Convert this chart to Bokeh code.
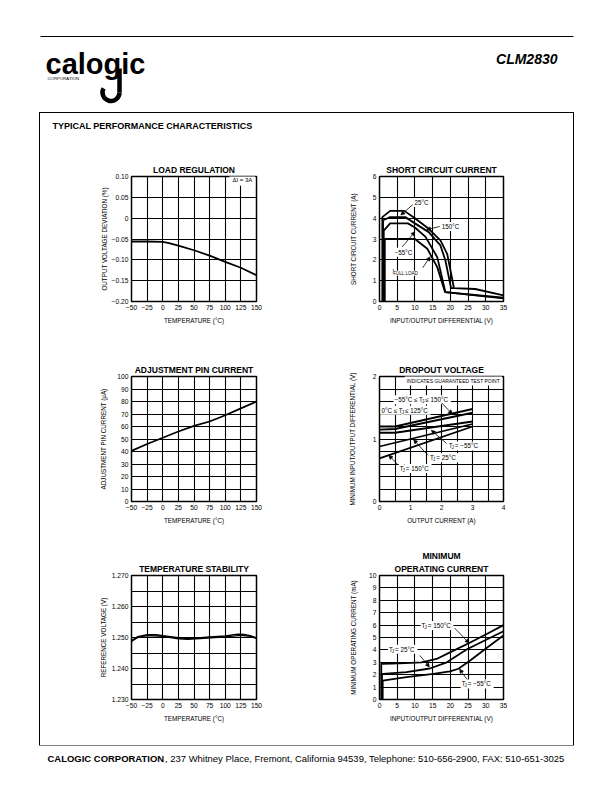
import math
from bokeh.plotting import figure
from bokeh.layouts import column, row
from bokeh.models import Range1d, FixedTicker, Label, Arrow, NormalHead, Spacer, Title
from bokeh.embed import file_html
from bokeh.resources import INLINE

FONT = "Liberation Sans"

# ---------------- data ----------------
temp_ticks = [-50, -25, 0, 25, 50, 75, 100, 125, 150]
temp_labels = ["\u221250", "\u221225", "0", "25", "50", "75", "100", "125", "150"]

# Load regulation
load_temp = [-50, -25, 0, 10, 25, 50, 75, 100, 125, 150]
load_dev = [-0.056, -0.056, -0.057, -0.060, -0.066, -0.077, -0.090, -0.105, -0.119, -0.137]
load_yticks = [-0.20, -0.15, -0.10, -0.05, 0.0, 0.05, 0.10]
load_ylabels = ["\u22120.20", "\u22120.15", "\u22120.10", "\u22120.05", "0", "0.05", "0.10"]

# Short circuit current
diff_ticks = [0, 5, 10, 15, 20, 25, 30, 35]
diff_labels = ["0", "5", "10", "15", "20", "25", "30", "35"]
sc_yticks = [0, 1, 2, 3, 4, 5, 6]
sc_ylabels = ["0", "1", "2", "3", "4", "5", "6"]
sc_v_25 = [0.8, 0.8, 3.0, 7.0, 10.0, 13.9, 17.2, 19.1, 20.5, 21.0, 27.0, 35.0]
sc_i_25 = [0.0, 4.05, 4.35, 4.35, 4.00, 3.49, 2.93, 2.29, 1.09, 0.64, 0.60, 0.29]
sc_v_150 = [1.0, 1.0, 3.0, 7.3, 10.0, 13.9, 17.2, 18.6, 20.2, 21.0]
sc_i_150 = [0.0, 3.90, 4.05, 4.05, 3.75, 3.33, 2.69, 1.97, 0.64, 0.64]
sc_v_m55 = [1.2, 1.2, 3.0, 8.0, 10.0, 13.0, 16.3, 18.6, 35.0]
sc_i_m55 = [0.0, 3.40, 3.75, 3.75, 3.55, 3.10, 2.13, 0.45, 0.18]
sc_v_fl = [1.5, 1.5, 10.0, 13.5, 16.3, 18.5, 35.0]
sc_i_fl = [0.0, 3.00, 3.00, 2.53, 1.65, 0.45, 0.15]

# Adjustment pin current
adj_temp = [-50, -25, 0, 25, 50, 75, 100, 125, 150]
adj_ua = [40.5, 46.0, 51.0, 56.0, 60.5, 64.0, 69.0, 74.5, 80.0]
adj_yticks = [0, 10, 20, 30, 40, 50, 60, 70, 80, 90, 100]
adj_ylabels = ["0", "10", "20", "30", "40", "50", "60", "70", "80", "90", "100"]

# Dropout voltage
do_xticks = [0, 0.5, 1, 1.5, 2, 2.5, 3, 3.5, 4]
do_xlabels = ["0", "", "1", "", "2", "", "3", "", "4"]
do_yticks = [0, 0.2, 0.4, 0.6, 0.8, 1.0, 1.2, 1.4, 1.6, 1.8, 2.0]
do_ylabels = ["0", "", "", "", "", "1", "", "", "", "", "2"]
do_i_g1 = [0, 0.5, 3.0]
do_v_g1 = [1.20, 1.20, 1.48]
do_i_g2 = [0, 0.5, 3.0]
do_v_g2 = [1.15, 1.16, 1.42]
do_i_m55 = [0, 0.5, 3.0]
do_v_m55 = [1.10, 1.10, 1.28]
do_i_25 = [0, 3.0]
do_v_25 = [0.88, 1.24]
do_i_150 = [0, 3.0]
do_v_150 = [0.69, 1.20]

# Temperature stability
ts_yticks = [1.230, 1.235, 1.240, 1.245, 1.250, 1.255, 1.260, 1.265, 1.270]
ts_ylabels = ["1.230", "", "1.240", "", "1.250", "", "1.260", "", "1.270"]
ts_t_a = [-50, -40, -25, -10, 0, 25, 40, 60, 75, 100, 120, 130, 140, 150]
ts_v_a = [1.2490, 1.2503, 1.2509, 1.2509, 1.2506, 1.2499, 1.2497, 1.2499, 1.2502, 1.2505, 1.2511, 1.2510, 1.2506, 1.2499]
ts_t_b = [-50, -40, -25, 0, 25, 40, 60, 100, 125, 140, 150]
ts_v_b = [1.2487, 1.2500, 1.2506, 1.2504, 1.2496, 1.2494, 1.2497, 1.2502, 1.2507, 1.2504, 1.2497]

# Minimum operating current
mo_yticks = [0, 1, 2, 3, 4, 5, 6, 7, 8, 9, 10]
mo_ylabels = ["0", "1", "2", "3", "4", "5", "6", "7", "8", "9", "10"]
mo_v_150 = [0.5, 0.5, 1.0, 5.7, 11.9, 16.1, 19.9, 25.6, 30.4, 35.0]
mo_i_150 = [0.0, 2.88, 2.88, 2.92, 3.00, 3.27, 3.80, 4.60, 5.30, 6.00]
mo_v_25 = [0.7, 0.7, 1.0, 7.6, 14.2, 19.0, 24.7, 30.4, 35.0]
mo_i_25 = [0.0, 2.05, 2.07, 2.20, 2.50, 3.00, 4.05, 4.86, 5.50]
mo_v_m55 = [0.9, 0.9, 7.6, 15.2, 19.9, 22.3, 25.6, 30.4, 35.0]
mo_i_m55 = [0.0, 1.53, 1.80, 2.07, 2.26, 2.48, 3.15, 4.20, 5.16]

# ---------------- text width helper (Arial metrics, per 1000 em) ----------------
REG = {' ': 278, ',': 278, '.': 278, ':': 278, '-': 333, '(': 333, ')': 333, '/': 278,
       '\u2212': 584, '\u00b0': 400, '\u2264': 549, '=': 584, '%': 889, '\u00b5': 556}
for ch in "0123456789":
    REG[ch] = 556
REG.update(dict(zip("ABCDEFGHIJKLMNOPQRSTUVWXYZ",
                    [667, 667, 722, 722, 667, 611, 778, 722, 278, 500, 667, 556, 833, 722, 778, 667, 778, 722, 667, 611, 722, 667, 944, 667, 667, 611])))
REG.update(dict(zip("abcdefghijklmnopqrstuvwxyz",
                    [556, 556, 500, 556, 556, 278, 556, 556, 222, 222, 500, 222, 833, 556, 556, 556, 556, 333, 500, 278, 556, 500, 722, 500, 500, 500])))
BOLD = dict(REG)
BOLD.update(dict(zip("ABCDEFGHIJKLMNOPQRSTUVWXYZ",
                     [722, 722, 722, 722, 667, 611, 778, 722, 278, 556, 722, 611, 833, 722, 778, 667, 778, 722, 667, 611, 722, 667, 944, 667, 667, 611])))


def em(s, bold=False):
    t = BOLD if bold else REG
    return sum(t.get(c, 600) for c in s) / 1000.0


def label(p, x, y, text, size=6.3, align="left", bg=False, style="normal", xo=0, yo=0,
          baseline="middle", pad=1):
    lab = Label(x=x, y=y, text=text, x_offset=xo, y_offset=yo, text_font=FONT,
                text_font_size=f"{size}px", text_align=align, text_baseline=baseline,
                text_font_style=style, text_color="black",
                background_fill_color="white" if bg else None, padding=pad if bg else 0)
    p.add_layout(lab)
    return lab


def rich(p, x, y, pieces, size=6.3):
    """pieces: list of (text, is_subscript); drawn left to right, white background."""
    xo = 0.0
    subs = []
    for t, sub in pieces:
        fs = size * 0.72 if sub else size
        if sub:
            subs.append((t, xo, fs))
        else:
            label(p, x, y, t, size=fs, bg=True, xo=xo)
        xo += em(t) * fs
    for t, o, fs in subs:
        label(p, x, y, t, size=fs, bg=True, xo=o, yo=-2, pad=0)


def arrow(p, x0, y0, x1, y1):
    p.add_layout(Arrow(x_start=x0, y_start=y0, x_end=x1, y_end=y1, line_width=0.8,
                       line_color="black",
                       end=NormalHead(size=4, fill_color="black", line_color="black", line_width=0.5)))


def make_chart(title, xr, yr, xticks, xlabels, yticks, ylabels, xlabel, ylabel, side, band, code,
               ystand=4):
    W = 266 if side == "L" else 267
    H = 202 if band == 2 else 200
    fl = 91 if side == "L" else 73
    fw = 125 if side == "L" else 124
    ft = 32 if band == 2 else 33
    fh = 124 if band == 2 else 125
    p = figure(width=W, height=H, x_range=Range1d(*xr), y_range=Range1d(*yr),
               output_backend="svg", toolbar_location=None,
               min_border_left=fl, min_border_right=W - fl - fw,
               min_border_top=ft, min_border_bottom=H - ft - fh)
    titles = title if isinstance(title, list) else [title]
    # p.title is the outermost line; extra titles sit closer to the frame
    p.title.text = titles[0]
    extra = [Title(text=t) for t in titles[1:]]
    for t in [p.title] + extra:
        t.text_font = FONT
        t.text_font_size = "8.5px"
        t.text_font_style = "bold"
        t.text_color = "black"
        t.align = "center"
        t.standoff = 3
    if extra:
        p.title.standoff = 0
    for t in extra:
        p.add_layout(t, "above")
    p.outline_line_color = "black"
    p.outline_line_width = 1.5
    p.outline_line_alpha = 1
    p.xaxis.ticker = FixedTicker(ticks=xticks)
    p.yaxis.ticker = FixedTicker(ticks=yticks)
    p.xaxis.major_label_overrides = {t: s for t, s in zip(xticks, xlabels)}
    p.yaxis.major_label_overrides = {t: s for t, s in zip(yticks, ylabels)}
    p.xaxis.axis_label = xlabel
    p.yaxis.axis_label = ylabel
    for ax in (p.xaxis[0], p.yaxis[0]):
        ax.axis_line_color = None
        ax.major_tick_line_color = None
        ax.minor_tick_line_color = None
        ax.major_tick_out = 0
        ax.major_tick_in = 0
        ax.minor_tick_out = 0
        ax.minor_tick_in = 0
        ax.major_label_text_font = FONT
        ax.major_label_text_font_size = "6.7px"
        ax.major_label_text_color = "black"
        ax.major_label_standoff = 3
        ax.axis_label_text_font = FONT
        ax.axis_label_text_font_size = "6.3px"
        ax.axis_label_text_font_style = "normal"
        ax.axis_label_text_color = "black"
        ax.axis_label_standoff = 4
    p.yaxis[0].axis_label_standoff = ystand
    for g in (p.xgrid[0], p.ygrid[0]):
        g.grid_line_color = "black"
        g.grid_line_width = 1.1
        g.grid_line_alpha = 1
    # figure code
    lab = Label(x=xr[1], y=yr[0], x_offset=4, y_offset=-20, text=code, text_font=FONT,
                text_font_size="5px", text_color="black", text_baseline="middle")
    p.add_layout(lab)
    return p


LW = 1.8

# 1. Load regulation
c1 = make_chart("LOAD REGULATION", (-50, 150), (-0.20, 0.10), temp_ticks, temp_labels,
                load_yticks, load_ylabels, "TEMPERATURE (\u00b0C)", "OUTPUT VOLTAGE DEVIATION (%)",
                "L", 0, "1E-42", ystand=1)
c1.line(load_temp, load_dev, line_width=LW, color="black")
label(c1, 148, 0.0925, "\u0394I = 3A", size=6.0, align="right", bg=True, pad=3)

# 2. Short circuit current
c2 = make_chart("SHORT CIRCUIT CURRENT", (0, 35), (0, 6), diff_ticks, diff_labels,
                sc_yticks, sc_ylabels, "INPUT/OUTPUT DIFFERENTIAL (V)", "SHORT CIRCUIT CURRENT (A)",
                "R", 0, "1E-43", ystand=13)
for xs, ys in ((sc_v_25, sc_i_25), (sc_v_150, sc_i_150), (sc_v_m55, sc_i_m55), (sc_v_fl, sc_i_fl)):
    c2.line(xs, ys, line_width=LW, color="black")
label(c2, 9.6, 4.75, "25\u00b0C", bg=True)
arrow(c2, 9.4, 4.65, 6.0, 4.15)
label(c2, 17.3, 3.6, "150\u00b0C", bg=True)
arrow(c2, 17.0, 3.6, 13.3, 3.45)
label(c2, 4.0, 2.37, "\u221255\u00b0C", bg=True)
arrow(c2, 6.4, 2.62, 10.0, 3.35)
rich(c2, 3.4, 1.45, [("I", False), ("FULL LOAD", True)])
arrow(c2, 12.2, 1.62, 14.3, 2.15)

# 3. Adjustment pin current
c3 = make_chart("ADJUSTMENT PIN CURRENT", (-50, 150), (0, 100), temp_ticks, temp_labels,
                adj_yticks, adj_ylabels, "TEMPERATURE (\u00b0C)", "ADJUSTMENT PIN CURRENT (\u00b5A)",
                "L", 1, "1E-44", ystand=7)
c3.line(adj_temp, adj_ua, line_width=LW, color="black")

# 4. Dropout voltage
c4 = make_chart("DROPOUT VOLTAGE", (0, 4), (0, 2), do_xticks, do_xlabels,
                do_yticks, do_ylabels, "OUTPUT CURRENT (A)", "MINIMUM INPUT/OUTPUT DIFFERENTIAL (V)",
                "R", 1, "1E-45", ystand=14)
for xs, ys in ((do_i_g1, do_v_g1), (do_i_g2, do_v_g2), (do_i_m55, do_v_m55),
               (do_i_25, do_v_25), (do_i_150, do_v_150)):
    c4.line(xs, ys, line_width=LW, color="black")
label(c4, 3.95, 1.935, "INDICATES GUARANTEED TEST POINT", size=5.0, align="right", bg=True, pad=2)
rich(c4, 0.45, 1.63, [("\u221255\u00b0C \u2264 T", False), ("J", True), (" \u2264 150\u00b0C", False)])
arrow(c4, 2.0, 1.58, 2.35, 1.40)
rich(c4, 0.03, 1.46, [("0\u00b0C \u2264 T", False), ("J", True), (" \u2264 125\u00b0C", False)])
rich(c4, 2.2, 0.89, [("T", False), ("J", True), (" = \u221255\u00b0C", False)])
arrow(c4, 2.16, 0.93, 1.67, 1.14)
rich(c4, 1.6, 0.70, [("T", False), ("J", True), (" = 25\u00b0C", False)])
arrow(c4, 1.56, 0.74, 1.10, 0.99)
rich(c4, 0.62, 0.53, [("T", False), ("J", True), (" = 150\u00b0C", False)])
arrow(c4, 0.59, 0.59, 0.30, 0.74)

# 5. Temperature stability
c5 = make_chart("TEMPERATURE STABILITY", (-50, 150), (1.230, 1.270), temp_ticks, temp_labels,
                ts_yticks, ts_ylabels, "TEMPERATURE (\u00b0C)", "REFERENCE VOLTAGE (V)",
                "L", 2, "1E-46", ystand=2)
c5.line(ts_t_a, ts_v_a, line_width=1.4, color="black")
c5.line(ts_t_b, ts_v_b, line_width=1.4, color="black")

# 6. Minimum operating current
c6 = make_chart(["MINIMUM", "OPERATING CURRENT"], (0, 35), (0, 10), diff_ticks, diff_labels,
                mo_yticks, mo_ylabels, "INPUT/OUTPUT DIFFERENTIAL (V)", "MINIMUM OPERATING CURRENT (mA)",
                "R", 2, "1E-47", ystand=9)
for xs, ys in ((mo_v_150, mo_i_150), (mo_v_25, mo_i_25), (mo_v_m55, mo_i_m55)):
    c6.line(xs, ys, line_width=LW, color="black")
rich(c6, 11.6, 5.97, [("T", False), ("J", True), (" = 150\u00b0C", False)])
arrow(c6, 21.2, 5.76, 25.3, 4.55)
rich(c6, 2.4, 4.05, [("T", False), ("J", True), (" = 25\u00b0C", False)])
arrow(c6, 11.4, 3.55, 14.1, 2.62)
rich(c6, 22.9, 1.26, [("T", False), ("J", True), (" = \u221255\u00b0C", False)])
arrow(c6, 24.7, 1.62, 22.6, 2.45)


# ---------------- page decorations ----------------
def deco(w, h):
    p = figure(width=w, height=h, x_range=Range1d(0, w), y_range=Range1d(0, h),
               output_backend="svg", toolbar_location=None, min_border=0,
               x_axis_type=None, y_axis_type=None)
    p.outline_line_color = None
    p.grid.visible = False
    return p


header = deco(612, 113)
header.segment(x0=[40], y0=[113 - 36], x1=[573], y1=[113 - 36], line_width=1, color="black")
label(header, 45, 113 - 63, "calogic", size=29, style="bold")
header.arc(x=[110.5], y=[113 - 92], radius=8.5, start_angle=math.radians(150),
           end_angle=math.radians(360), direction="anticlock", line_width=4.5, color="black")
header.segment(x0=[119], y0=[113 - 68], x1=[119], y1=[113 - 92], line_width=4.5, color="black")
label(header, 47, 113 - 78, "CORPORATION", size=4.3)
label(header, 557, 113 - 58, "CLM2830", size=14, align="right", style="bold italic")

title_fig = deco(533, 30)
label(title_fig, 12, 30 - 12, "TYPICAL PERFORMANCE CHARACTERISTICS", size=9, style="bold")

footer = deco(612, 47)
f_bold = "CALOGIC CORPORATION"
f_reg = ", 237 Whitney Place, Fremont, California 94539, Telephone: 510-656-2900, FAX: 510-651-3025"
fs = (566 - 47) / (em(f_bold, True) + em(f_reg))
label(footer, 47, 47 - 12.5, f_bold, size=round(fs, 2), style="bold")
label(footer, 47 + em(f_bold, True) * fs, 47 - 12.5, f_reg, size=round(fs, 2))

box = column(title_fig, row(c1, c2), row(c3, c4), row(c5, c6),
             styles={"outline": "1.3px solid black"})
mid = row(Spacer(width=40, height=632), box, Spacer(width=39, height=632))
page = column(header, mid, footer)

open("out.html", "w").write(file_html(page, INLINE))
